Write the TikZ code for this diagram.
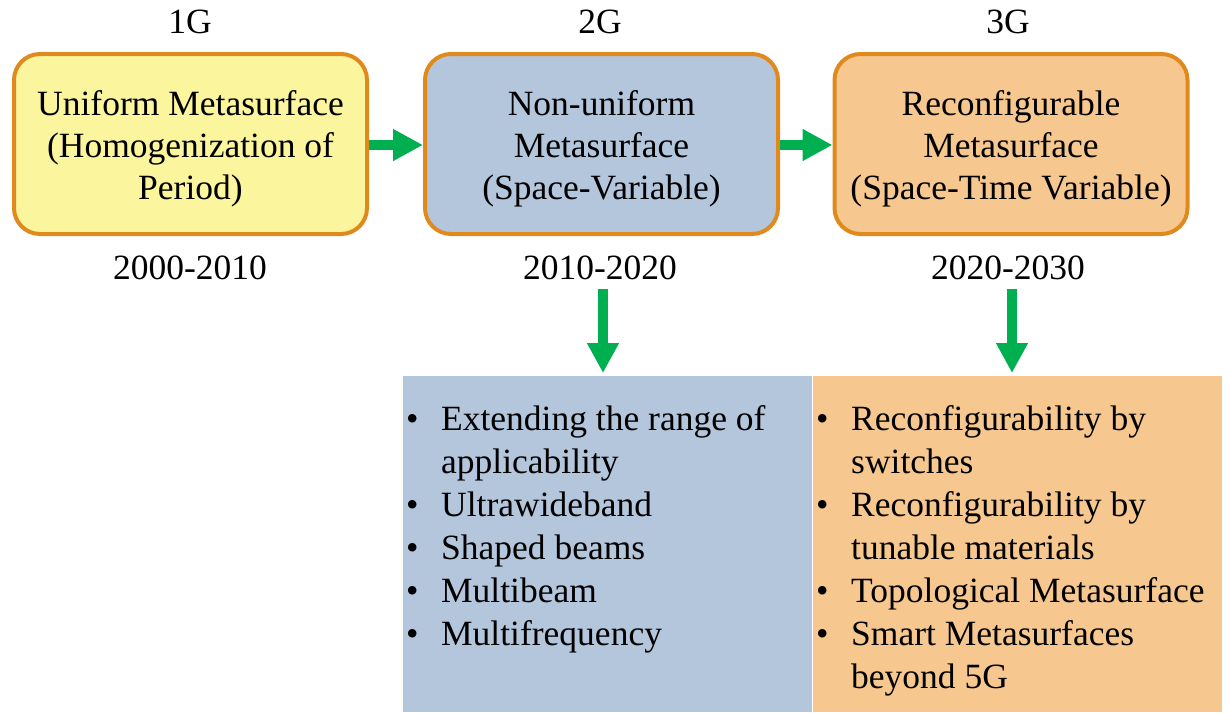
\documentclass[tikz,border=0pt]{standalone}
\usepackage{fontspec}
\setmainfont{Liberation Serif}
\usetikzlibrary{arrows.meta}

\definecolor{stageedge}{HTML}{E08A1E}
\definecolor{stageyellow}{HTML}{FBF59E}
\definecolor{stageblue}{HTML}{B4C6DC}
\definecolor{stageorange}{HTML}{F6C890}
\definecolor{flowgreen}{HTML}{00B050}

\newcommand\boxfont{\fontsize{35.5pt}{42pt}\selectfont}
\newcommand\listfont{\fontsize{35.5pt}{43pt}\selectfont}
\newcommand\lbul{\makebox[35pt][l]{\textbullet}}

\begin{document}
\begin{tikzpicture}[x=1pt,y=-1pt,
  stage/.style={draw=stageedge, line width=4pt, rounded corners=26pt,
    minimum width=353pt, minimum height=180pt, inner sep=0pt},
  stagetext/.style={align=center, font=\boxfont, inner sep=0pt},
  tag/.style={font=\boxfont, inner sep=0pt},
  panel/.style={draw=none, minimum width=409pt, minimum height=336pt,
    inner sep=0pt, anchor=north west},
  items/.style={font=\listfont, inner sep=0pt, anchor=base west},
  flow/.style={draw=flowgreen, line width=10pt,
    -{Triangle[width=30pt,length=30pt]}}]
\useasboundingbox (0,0) rectangle (1228,712);

% generation stages
\node[stage, fill=stageyellow] (s1) at (190.5,144) {};
\node[stage, fill=stageblue] (s2) at (601.5,144) {};
\node[stage, fill=stageorange] (s3) at (1011,144) {};
\node[stagetext] (t1) at (190.5,149)
  {Uniform Metasurface\\(Homogenization of\\Period)};
\node[stagetext] (t2) at (601.5,149)
  {Non-uniform\\Metasurface\\(Space-Variable)};
\node[stagetext] (t3) at (1011,149)
  {Reconfigurable\\Metasurface\\(Space-Time Variable)};

% generation tags and decades
\node[tag] (g1) at (190,22) {1G};
\node[tag] (g2) at (600,22) {2G};
\node[tag] (g3) at (1008,22) {3G};
\node[tag] (y1) at (190,268) {2000-2010};
\node[tag] (y2) at (600,268) {2010-2020};
\node[tag] (y3) at (1008,268) {2020-2030};

% feature panels
\node[panel, fill=stageblue] (p2) at (403,376) {};
\node[panel, fill=stageorange] (p3) at (813,376) {};

\node[items] (l2) at (406,430) {\begin{tabular}[t]{@{}l@{}l@{}}
  \lbul & Extending the range of\\
        & applicability\\
  \lbul & Ultrawideband\\
  \lbul & Shaped beams\\
  \lbul & Multibeam\\
  \lbul & Multifrequency
\end{tabular}};
\node[items] (l3) at (816,430) {\begin{tabular}[t]{@{}l@{}l@{}}
  \lbul & Reconfigurability by\\
        & switches\\
  \lbul & Reconfigurability by\\
        & tunable materials\\
  \lbul & Topological Metasurface\\
  \lbul & Smart Metasurfaces\\
        & beyond 5G
\end{tabular}};

% evolution arrows
\draw[flow] ([yshift=-1pt]s1.east) -- ([yshift=-1pt]s2.west);
\draw[flow] ([yshift=-1pt]s2.east) -- ([yshift=-1pt]s3.west);

\coordinate (d2) at (603,289);
\coordinate (d3) at (1012,289);
\draw[flow, shorten >=3pt] (d2) -- (d2 |- p2.north);
\draw[flow, shorten >=3pt] (d3) -- (d3 |- p3.north);
\end{tikzpicture}
\end{document}
